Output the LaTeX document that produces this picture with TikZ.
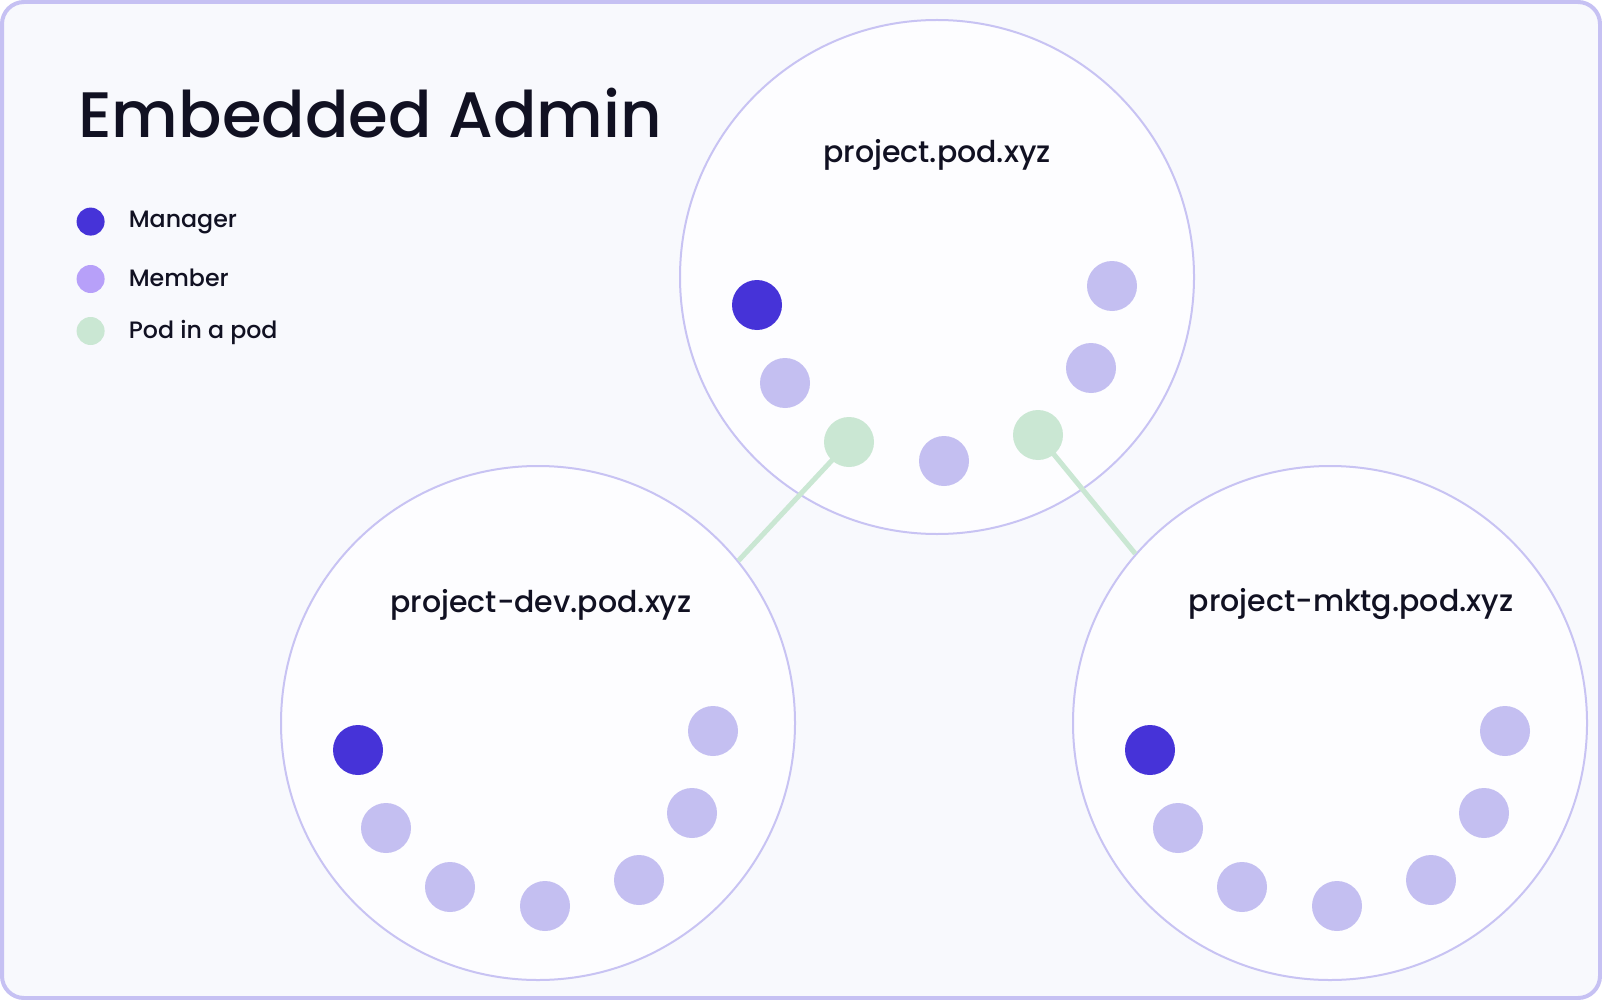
\documentclass[tikz,border=0pt]{standalone}
\usepackage{fontspec}
\setmainfont{Poppins}[UprightFont=* Medium]
\usetikzlibrary{calc}
\definecolor{framefill}{HTML}{F8F9FD}
\definecolor{framestroke}{HTML}{C6C1F3}
\definecolor{podfill}{HTML}{FDFDFF}
\definecolor{podstroke}{HTML}{C8C3F3}
\definecolor{mgr}{HTML}{4633D8}
\definecolor{mem}{HTML}{C4BFF1}
\definecolor{memlegend}{HTML}{B7A0F9}
\definecolor{podgreen}{HTML}{CAE7D3}
\definecolor{ink}{HTML}{111122}
\begin{document}
\begin{tikzpicture}[x=1pt,y=-1pt,
  bigpod/.style={circle,draw=podstroke,line width=2pt,fill=podfill,minimum size=514pt,inner sep=0pt},
  dot/.style={circle,inner sep=0pt,minimum size=50pt},
  mgrdot/.style={dot,fill=mgr},
  memdot/.style={dot,fill=mem},
  poddot/.style={dot,fill=podgreen},
  legdot/.style={circle,inner sep=0pt,minimum size=28pt},
  link/.style={draw=podgreen,line width=5pt},
  podlabel/.style={anchor=base,inner sep=0pt,text=ink,font=\fontsize{30}{36}\selectfont},
  legtext/.style={anchor=base west,inner sep=0pt,text=ink,font=\fontsize{23.7}{28}\selectfont}
]
\useasboundingbox (0,0) rectangle (1602,1000);
\draw[fill=framefill,draw=framestroke,line width=4pt,rounded corners=22pt] (2,2) rectangle (1600,998);

% title and legend
\node[anchor=base west,inner sep=0pt,text=ink,font=\fontsize{64.2}{70}\selectfont] (title) at (78,138) {Embedded Admin};
\node[legdot,fill=mgr] (lm) at (90.6,221.6) {};
\node[legtext] (lmt) at (128.6,227.6) {Manager};
\node[legdot,fill=memlegend] (lb) at (90.6,279) {};
\node[legtext] (lbt) at (128.6,286.6) {Member};
\node[legdot,fill=podgreen] (lp) at (90.6,331) {};
\node[legtext] (lpt) at (128.6,338) {Pod in a pod};

% big pods
\node[bigpod] (top) at (937,277) {};
\node[bigpod] (dev) at (538,723) {};
\node[bigpod] (mktg) at (1330,723) {};

\node[podlabel] (toplbl) at (937,163) {project.pod.xyz};
\node[podlabel] (devlbl) at (541,612) {project-dev.pod.xyz};
\node[podlabel] (mktglbl) at (1351,611) {project-mktg.pod.xyz};

% links
\coordinate (g1) at ($(top.center)+(-88,165)$);
\coordinate (g2) at ($(top.center)+(101,158)$);
\draw[link] (g1) -- (dev.39.3);
\draw[link] (g2) -- (mktg.139.3);

% top pod members
\node[mgrdot] (t1) at ($(top.center)+(-180,28)$) {};
\node[memdot] (t2) at ($(top.center)+(-152,106)$) {};
\node[poddot] (t3) at (g1) {};
\node[memdot] (t4) at ($(top.center)+(7,184)$) {};
\node[poddot] (t5) at (g2) {};
\node[memdot] (t6) at ($(top.center)+(154,91)$) {};
\node[memdot] (t7) at ($(top.center)+(175,9)$) {};

% dev and mktg pod members
\foreach \c in {dev,mktg}{
  \node[mgrdot] (\c1) at ($(\c.center)+(-180,27)$) {};
  \node[memdot] (\c2) at ($(\c.center)+(-152,105)$) {};
  \node[memdot] (\c3) at ($(\c.center)+(-88,164)$) {};
  \node[memdot] (\c4) at ($(\c.center)+(7,183)$) {};
  \node[memdot] (\c5) at ($(\c.center)+(101,157)$) {};
  \node[memdot] (\c6) at ($(\c.center)+(154,90)$) {};
  \node[memdot] (\c7) at ($(\c.center)+(175,8)$) {};
}
\end{tikzpicture}
\end{document}
